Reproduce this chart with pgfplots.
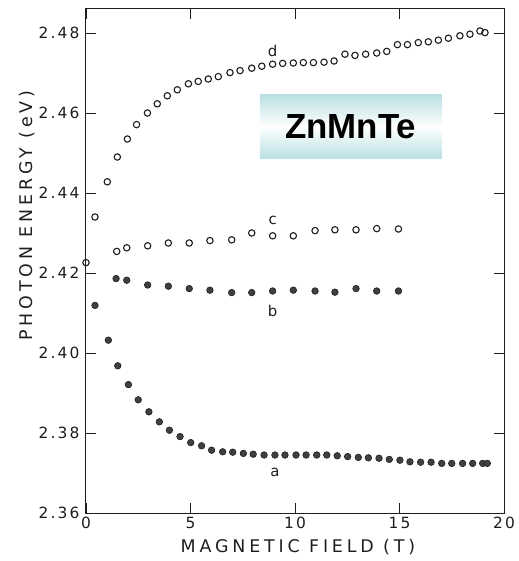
\documentclass[border=0pt]{standalone}
\usepackage{pgfplots}
\pgfplotsset{compat=1.18}
\usepackage{fontspec}
\setmainfont{DejaVu Sans}
\newfontfamily\lblfont[LetterSpace=22]{DejaVu Sans}
\newfontfamily\tickfont[LetterSpace=14]{DejaVu Sans}
\newfontfamily\boxfont{Liberation Sans}
\usetikzlibrary{shadings}
\definecolor{boxteal}{RGB}{185,223,227}
\definecolor{ink}{RGB}{30,30,30}
\begin{document}
\begin{tikzpicture}
\begin{axis}[
  name=ax,
  width=418bp, height=504bp, scale only axis,
  xmin=0, xmax=20, ymin=2.36, ymax=2.486,
  xtick={0,5,10,15,20},
  ytick={2.36,2.38,2.40,2.42,2.44,2.46,2.48},
  yticklabels={2.36,2.38,2.40,2.42,2.44,2.46,2.48},
  /pgf/number format/assume math mode=true,
  tick align=inside, major tick length=10bp,
  tick style={ink, line width=0.9bp},
  axis line style={ink, line width=1bp},
  ticklabel style={font=\tickfont\fontsize{15.5}{18}\selectfont, text=ink},
  yticklabel style={xshift=-3bp},
  xticklabel style={yshift=-1bp},
  xlabel={\lblfont\fontsize{17.5}{20}\selectfont MAGNETIC FIELD (T)},
  ylabel={\lblfont\fontsize{17.5}{20}\selectfont PHOTON ENERGY (eV)},
  xlabel style={at={(rel axis cs:0.507,0)}, anchor=center, yshift=-34bp, text=ink},
  ylabel style={at={(rel axis cs:0,0.59)}, anchor=center, yshift=59bp, text=ink},
  clip=false,
]
% series d (open)
\addplot[only marks, mark=o, mark size=3.2bp, mark options={ink, line width=1.1bp}] coordinates {
(0,2.4226) (0.43,2.4340) (1.02,2.4428) (1.50,2.4490) (1.98,2.4535) (2.42,2.4571)
(2.94,2.4600) (3.41,2.4623) (3.89,2.4643) (4.37,2.4658) (4.90,2.4673) (5.37,2.4679)
(5.85,2.4685) (6.33,2.4691) (6.89,2.4701) (7.37,2.4706) (7.93,2.4712) (8.41,2.4717)
(8.93,2.4722) (9.41,2.4724) (9.92,2.4725) (10.40,2.4726) (10.88,2.4726) (11.39,2.4727)
(11.87,2.4730) (12.39,2.4747) (12.87,2.4744) (13.38,2.4747) (13.91,2.4750) (14.39,2.4754)
(14.90,2.4771) (15.38,2.4771) (15.90,2.4776) (16.38,2.4778) (16.86,2.4782) (17.34,2.4787)
(17.89,2.4793) (18.37,2.4797) (18.85,2.4805) (19.09,2.4801)
};
% series c (open)
\addplot[only marks, mark=o, mark size=3.2bp, mark options={ink, line width=1.1bp}] coordinates {
(1.47,2.4254) (1.95,2.4263) (2.95,2.4268) (3.94,2.4275) (4.94,2.4275) (5.93,2.4281)
(6.97,2.4283) (7.93,2.4300) (8.93,2.4293) (9.92,2.4293) (10.96,2.4306) (11.91,2.4308)
(12.92,2.4308) (13.91,2.4311) (14.95,2.4310)
};
% series b (filled)
\addplot[only marks, mark=*, mark size=3.3bp, mark options={draw=ink, fill=ink!85, line width=0.6bp}] coordinates {
(0.43,2.4119) (1.44,2.4186) (1.95,2.4182) (2.95,2.4170) (3.94,2.4167) (4.94,2.4161)
(5.93,2.4157) (6.97,2.4151) (7.93,2.4151) (8.93,2.4155) (9.92,2.4157) (10.96,2.4155)
(11.91,2.4152) (12.92,2.4161) (13.91,2.4155) (14.95,2.4155)
};
% series a (filled)
\addplot[only marks, mark=*, mark size=3.3bp, mark options={draw=ink, fill=ink!85, line width=0.6bp}] coordinates {
(1.07,2.4032) (1.52,2.3968) (2.03,2.3921) (2.50,2.3883) (3.01,2.3853) (3.51,2.3828)
(3.99,2.3807) (4.50,2.3791) (5.01,2.3776) (5.53,2.3768) (6.01,2.3757) (6.54,2.3753)
(7.02,2.3752) (7.53,2.3749) (8.00,2.3747) (8.52,2.3745) (9.04,2.3745) (9.52,2.3745)
(10.05,2.3745) (10.53,2.3745) (11.04,2.3745) (11.52,2.3745) (12.02,2.3743) (12.52,2.3741)
(13.03,2.3739) (13.51,2.3738) (14.02,2.3737) (14.51,2.3734) (15.02,2.3732) (15.50,2.3728)
(16.01,2.3727) (16.51,2.3727) (17.02,2.3724) (17.50,2.3724) (18.02,2.3724) (18.50,2.3724)
(18.98,2.3724) (19.20,2.3724)
};
\node[text=ink, font=\tickfont\fontsize{15}{18}\selectfont] at (axis cs:8.93,2.4755) {d};
\node[text=ink, font=\tickfont\fontsize{15}{18}\selectfont] at (axis cs:8.93,2.4331) {c};
\node[text=ink, font=\tickfont\fontsize{15}{18}\selectfont] at (axis cs:8.93,2.4105) {b};
\node[text=ink, font=\tickfont\fontsize{15}{18}\selectfont] at (axis cs:9.04,2.3702) {a};
\node[minimum width=181.7bp, minimum height=64.3bp, inner sep=0pt,
  top color=boxteal, bottom color=boxteal, middle color=white,
  font=\boxfont\bfseries\fontsize{35}{40}\selectfont]
  at (axis cs:12.67,2.4566) {ZnMnTe};
\end{axis}
\path ([xshift=-86bp,yshift=-48bp]ax.south west) rectangle ([xshift=11bp,yshift=9bp]ax.north east);
\end{tikzpicture}
\end{document}
